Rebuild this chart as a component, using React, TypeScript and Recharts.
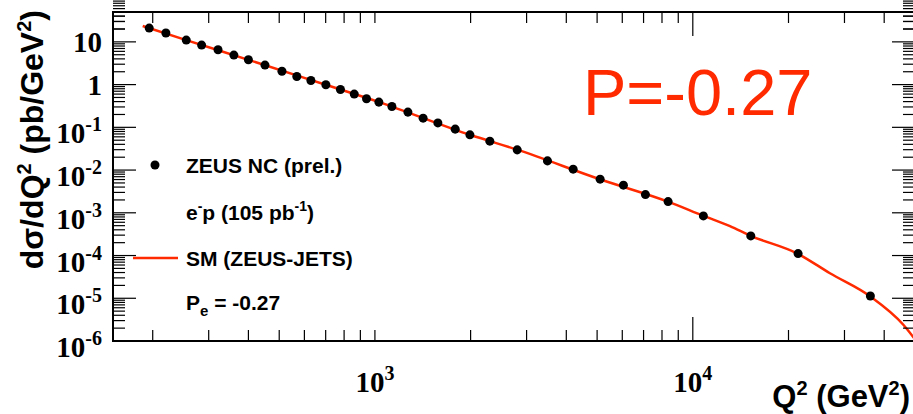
import { ComposedChart, Customized, Line, Scatter, XAxis, YAxis } from 'recharts';

// ZEUS NC e-p points, Q2 in GeV2 and dsigma/dQ2 in pb/GeV2
const Q2 = [195, 220, 255, 285, 321, 360, 400, 451, 510, 568, 629, 701, 779, 861, 941, 1029, 1131, 1270, 1418, 1578, 1789, 1990, 2299, 2803, 3490, 4204, 5111, 6050, 7096, 8362, 10797, 15220, 21440, 36190];
const XSEC = [21.0, 16.1, 11.0, 8.41, 6.53, 4.91, 3.81, 2.86, 2.05, 1.55, 1.25, 0.989, 0.767, 0.6, 0.465, 0.389, 0.307, 0.227, 0.164, 0.127, 0.0908, 0.0667, 0.0475, 0.0297, 0.0164, 0.0105, 0.00612, 0.00443, 0.00267, 0.00183, 0.000846, 0.000288, 0.000111, 0.0000113];

// SM (ZEUS-JETS) curve
const SM_Q2 = [186, 255, 400, 700, 1030, 2000, 2800, 5100, 8400, 10800, 13090, 15200, 21400, 27000, 36200, 45950, 50000];
const SM_XSEC = [23.5, 11.0, 3.8, 0.99, 0.39, 0.066, 0.03, 0.0061, 0.0018, 0.00085, 0.00049, 0.00029, 0.00011, 0.0000385, 0.000011, 0.0000024, 0.0000011];

const X_TICKS = [200, 300, 400, 500, 600, 700, 800, 900, 1000, 2000, 3000, 4000, 5000, 6000, 7000, 8000, 9000, 10000, 20000, 30000, 40000];
const X_LABELS = [1000, 10000];
const X_LONG = [10000];
const Y_DECADES = [-6, -5, -4, -3, -2, -1, 0, 1];
const Y_TICKS = [...Y_DECADES.flatMap((e) => [1, 2, 3, 4, 5, 6, 7, 8, 9].map((k) => k * Math.pow(10, e))), 20, 30, 40];

const RED = '#ff2a00';
const SERIF = '"Liberation Serif", "DejaVu Serif", serif';
const SANS = '"Liberation Sans", Arial, sans-serif';

// frame edges (the right edge falls just outside the 913px window, as in the original)
const PLOT_LEFT = 113;
const PLOT_TOP = 12;
const PLOT_RIGHT = 915;
const PLOT_BOTTOM = 341;
const CHART_W = 920;
const CHART_H = 414;

const points = Q2.map((x, i) => ({ x, y: XSEC[i] }));
const curve = SM_Q2.map((x, i) => ({ x, y: SM_XSEC[i] }));

const expOf = (v: number) => Math.round(Math.log10(v));
const isDecade = (v: number) => Math.abs(Math.log10(v) - expOf(v)) < 1e-6;

const PowLabel = ({ v, ...rest }: any) => {
  const e = expOf(v);
  if (e === 0) return <text {...rest}>1</text>;
  if (e === 1) return <text {...rest}>10</text>;
  return (
    <text {...rest}>
      10<tspan dy={-12} fontSize={20}>{e}</tspan>
    </text>
  );
};

// bottom ticks, mirrored on the top edge of the frame
const BottomTick = ({ x, y, payload }: any) => {
  const v = payload.value;
  const len = X_LONG.includes(v) ? 24 : 11;
  return (
    <g>
      <line x1={x} y1={y} x2={x} y2={y - len} stroke="#000" strokeWidth={1.2} />
      <line x1={x} y1={PLOT_TOP} x2={x} y2={PLOT_TOP + len} stroke="#000" strokeWidth={1.2} />
      {X_LABELS.includes(v) && (
        <PowLabel v={v} x={x} y={y + 51} textAnchor="middle" fontFamily={SERIF} fontWeight="bold" fontSize={29} fill="#000" />
      )}
    </g>
  );
};

// left ticks, mirrored on the right edge of the frame
const LeftTick = ({ x, y, payload }: any) => {
  const v = payload.value;
  const major = isDecade(v);
  const len = major ? 23 : 12;
  const e = expOf(v);
  return (
    <g>
      <line x1={x} y1={y} x2={x + len} y2={y} stroke="#000" strokeWidth={1.2} />
      <line x1={PLOT_RIGHT} y1={y} x2={PLOT_RIGHT - len} y2={y} stroke="#000" strokeWidth={1.2} />
      {major && (
        <PowLabel v={v} x={x - 11} y={y + (e >= 0 ? 10 : 16)} textAnchor="end" fontFamily={SERIF} fontWeight="bold" fontSize={29} fill="#000" />
      )}
    </g>
  );
};

const Overlay = () => (
  <g fontFamily={SANS} fontWeight="bold" fill="#000">
    <rect x={PLOT_LEFT} y={PLOT_TOP} width={PLOT_RIGHT - PLOT_LEFT} height={PLOT_BOTTOM - PLOT_TOP} fill="none" stroke="#000" strokeWidth={2} />

    <text x={583} y={115} fontSize={65} fontWeight="normal" fill={RED}>P=-0.27</text>

    <text transform="translate(43,10) rotate(-90)" textAnchor="end" fontSize={32}>
      dσ/dQ<tspan dy={-12} fontSize={20}>2</tspan>
      <tspan dy={12}> (pb/GeV</tspan>
      <tspan dy={-12} fontSize={20}>2</tspan>
      <tspan dy={12}>)</tspan>
    </text>

    <text x={910} y={407} textAnchor="end" fontSize={31}>
      Q<tspan dy={-12} fontSize={20}>2</tspan>
      <tspan dy={12}> (GeV</tspan>
      <tspan dy={-12} fontSize={20}>2</tspan>
      <tspan dy={12}>)</tspan>
    </text>

    <circle cx={155} cy={165} r={4.5} fill="#000" />
    <text x={186} y={173} fontSize={21}>ZEUS NC (prel.)</text>
    <text x={186} y={220} fontSize={21}>
      e<tspan dy={-9} fontSize={14}>-</tspan>
      <tspan dy={9}>p (105 pb</tspan>
      <tspan dy={-9} fontSize={14}>-1</tspan>
      <tspan dy={9}>)</tspan>
    </text>
    <line x1={133} y1={258} x2={178} y2={258} stroke={RED} strokeWidth={2.5} />
    <text x={186} y={266} fontSize={21}>SM (ZEUS-JETS)</text>
    <text x={186} y={310} fontSize={21}>
      P<tspan dy={6} fontSize={15}>e</tspan>
      <tspan dy={-6}> = -0.27</tspan>
    </text>
  </g>
);

export default function App() {
  return (
    <div style={{ position: 'absolute', left: 0, top: 0, width: 913, height: CHART_H, overflow: 'hidden', background: '#fff' }}>
      <ComposedChart
        width={CHART_W}
        height={CHART_H}
        margin={{ top: PLOT_TOP, right: CHART_W - PLOT_RIGHT, bottom: 0, left: 0 }}
      >
        <XAxis
          dataKey="x"
          type="number"
          scale="log"
          domain={[150, 50000]}
          allowDataOverflow
          ticks={X_TICKS}
          interval={0}
          tickSize={0}
          tickMargin={0}
          tickLine={false}
          height={CHART_H - PLOT_BOTTOM}
          axisLine={false}
          tick={(p: any) => <BottomTick {...p} />}
        />
        <YAxis
          type="number"
          scale="log"
          domain={[1e-6, 50]}
          allowDataOverflow
          ticks={Y_TICKS}
          interval={0}
          tickSize={0}
          tickMargin={0}
          tickLine={false}
          width={PLOT_LEFT}
          axisLine={false}
          tick={(p: any) => <LeftTick {...p} />}
        />
        <Line data={curve} dataKey="y" type="monotone" stroke={RED} strokeWidth={2.5} dot={false} isAnimationActive={false} />
        <Scatter data={points} dataKey="y" fill="#000" isAnimationActive={false} />
        <Customized component={<Overlay />} />
      </ComposedChart>
    </div>
  );
}
